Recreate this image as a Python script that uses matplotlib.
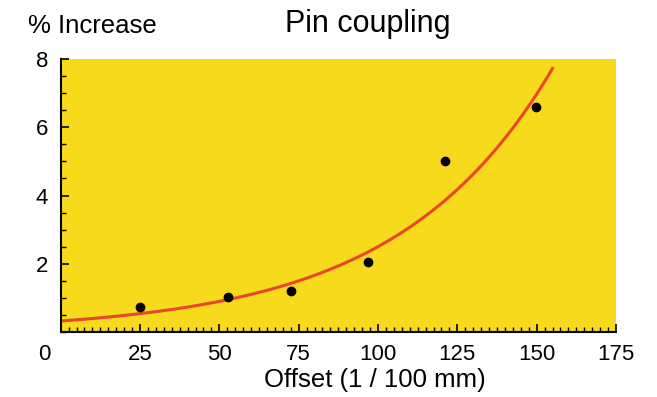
import matplotlib
matplotlib.use("Agg")
import matplotlib.pyplot as plt
import matplotlib.transforms as mtransforms
import numpy as np

plt.rcParams['font.family'] = ['Liberation Sans', 'DejaVu Sans']

# measured points
offset = [25.0, 52.7, 72.7, 96.9, 121.2, 149.7]
increase = [0.72, 1.03, 1.19, 2.05, 5.01, 6.58]

# exponential fit: y = a * exp(b * x)
fit_a = 0.322
fit_b = 0.0205
fit_x0, fit_x1 = 0.8, 155.0

xticks = [0, 25, 50, 75, 100, 125, 150, 175]
yticks = [2, 4, 6, 8]

fig = plt.figure(figsize=(6.57, 3.97), dpi=100)
ax = fig.add_axes([60.7/657, 1-332/397, (616-60.7)/657, (332-59)/397])
ax.set_facecolor('#F6DA1B')

xs = np.linspace(fit_x0, fit_x1, 300)
ax.plot(xs, fit_a*np.exp(fit_b*xs), color='#E8472A', lw=2.2, zorder=2)
ax.plot(offset, increase, 'o', color='black', ms=6, zorder=3)

ax.set_xlim(0, 175)
ax.set_ylim(0, 8)
ax.set_xticks(xticks)
ax.set_xticks(np.arange(0, 175.1, 2.5), minor=True)
ax.set_yticks(yticks)
ax.set_yticks(np.arange(0, 8.01, 0.5), minor=True)
ax.set_xticklabels([str(t) for t in xticks])

for s in ['top', 'right']:
    ax.spines[s].set_visible(False)
for s in ['left', 'bottom']:
    ax.spines[s].set_linewidth(1.5)
    ax.spines[s].set_color('black')

ax.tick_params(which='major', direction='in', length=6, width=1.2, labelsize=16, pad=9)
ax.tick_params(which='minor', direction='in', length=3.5, width=1)

# corner "0" label sits left of the axis
lab0 = ax.get_xticklabels()[0]
lab0.set_transform(lab0.get_transform() + mtransforms.ScaledTranslation(-16/100, 0, fig.dpi_scale_trans))

fig.text(28/657, 1-33/397, '% Increase', fontsize=18.5, ha='left', va='baseline')
fig.text(368/657, 1-32/397, 'Pin coupling', fontsize=22, ha='center', va='baseline')
fig.text(375/657, 1-387/397, 'Offset (1 / 100 mm)', fontsize=18.5, ha='center', va='baseline')

fig.savefig('out.png', dpi=100)
